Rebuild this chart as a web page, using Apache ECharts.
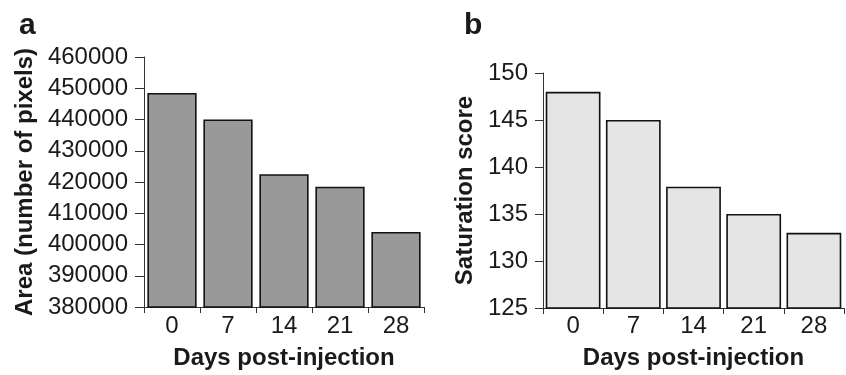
<!DOCTYPE html>
<html>
<head>
<meta charset="utf-8">
<script src="https://cdn.jsdelivr.net/npm/echarts@6/dist/echarts.min.js"></script>
<style>
html,body{margin:0;padding:0;background:#fff;}
#c{width:846px;height:375px;}
</style>
</head>
<body>
<div id="c"></div>
<script>
const categories = ['0', '7', '14', '21', '28'];
const areaValues = [448500, 440000, 422500, 418500, 404000];
const saturationValues = [148, 145, 137.9, 135, 133];
const areaTicks = { min: 380000, max: 460000, interval: 10000 };
const satTicks = { min: 125, max: 150, interval: 5 };

const FONT = 'Liberation Sans';
const ink = '#1a1a1a';
const axisLine = { show: true, onZero: false, lineStyle: { color: '#333', width: 1 } };
const plain = v => String(v);

const chart = echarts.init(document.getElementById('c'), null, { renderer: 'canvas' });
chart.setOption({
  animation: false,
  backgroundColor: '#fff',
  title: [
    { text: 'a', left: 14, top: 6, textStyle: { fontFamily: FONT, fontWeight: 'bold', fontSize: 30, color: ink } },
    { text: 'b', left: 459, top: 6, textStyle: { fontFamily: FONT, fontWeight: 'bold', fontSize: 30, color: ink } }
  ],
  grid: [
    { left: 144, right: 422, top: 57, bottom: 66 },
    { left: 543, right: 2, top: 73, bottom: 64 }
  ],
  xAxis: [
    {
      type: 'category', gridIndex: 0, data: categories,
      name: 'Days post-injection', nameLocation: 'middle', nameGap: 39,
      nameTextStyle: { fontFamily: FONT, fontWeight: 'bold', fontSize: 24, color: ink },
      axisLine: axisLine,
      axisTick: { show: true, length: 6, lineStyle: { color: '#333' } },
      axisLabel: { fontFamily: FONT, fontSize: 24, color: ink, margin: 7 }
    },
    {
      type: 'category', gridIndex: 1, data: categories,
      name: 'Days post-injection', nameLocation: 'middle', nameGap: 38,
      nameTextStyle: { fontFamily: FONT, fontWeight: 'bold', fontSize: 24, color: ink },
      axisLine: axisLine,
      axisTick: { show: true, length: 6, lineStyle: { color: '#333' } },
      axisLabel: { fontFamily: FONT, fontSize: 24, color: ink, margin: 6 }
    }
  ],
  yAxis: [
    {
      type: 'value', gridIndex: 0, min: areaTicks.min, max: areaTicks.max, interval: areaTicks.interval,
      name: 'Area (number of pixels)', nameLocation: 'middle', nameGap: 107, nameRotate: 90,
      nameTextStyle: { fontFamily: FONT, fontWeight: 'bold', fontSize: 24, color: ink },
      axisLine: axisLine,
      axisTick: { show: true, length: 9, lineStyle: { color: '#333' } },
      splitLine: { show: false },
      axisLabel: { fontFamily: FONT, fontSize: 24, color: ink, margin: 16, formatter: plain }
    },
    {
      type: 'value', gridIndex: 1, min: satTicks.min, max: satTicks.max, interval: satTicks.interval,
      name: 'Saturation score', nameLocation: 'middle', nameGap: 66, nameRotate: 90,
      nameTextStyle: { fontFamily: FONT, fontWeight: 'bold', fontSize: 24, color: ink },
      axisLine: axisLine,
      axisTick: { show: true, length: 8, lineStyle: { color: '#333' } },
      splitLine: { show: false },
      axisLabel: { fontFamily: FONT, fontSize: 24, color: ink, margin: 15, formatter: plain }
    }
  ],
  series: [
    {
      type: 'bar', xAxisIndex: 0, yAxisIndex: 0, data: areaValues,
      barCategoryGap: '12%',
      itemStyle: { color: '#999999', borderColor: '#111', borderWidth: 1.6 }
    },
    {
      type: 'bar', xAxisIndex: 1, yAxisIndex: 1, data: saturationValues,
      barCategoryGap: '9%',
      itemStyle: { color: '#e5e5e5', borderColor: '#111', borderWidth: 1.6 }
    }
  ]
});
</script>
</body>
</html>
